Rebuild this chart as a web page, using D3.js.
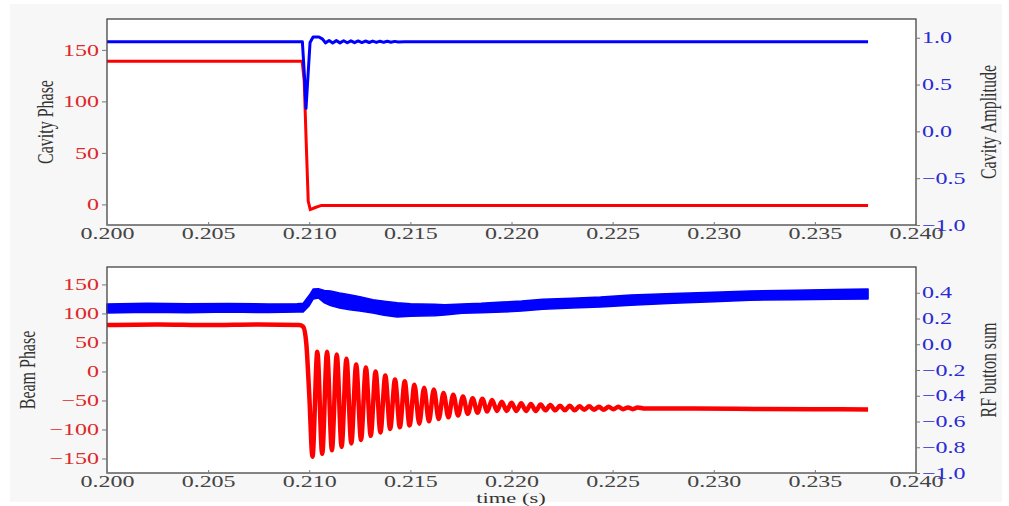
<!DOCTYPE html>
<html>
<head>
<meta charset="utf-8">
<script src="https://cdn.jsdelivr.net/npm/d3@7"></script>
<style>
body { margin: 0; background: #fff; }
svg text { font-family: "Liberation Serif", "Times New Roman", serif; }
</style>
</head>
<body>
<svg id="chart" width="1009" height="506"></svg>
<script>
// tick labels
const timeTicks = [0.200, 0.205, 0.210, 0.215, 0.220, 0.225, 0.230, 0.235, 0.240];
const cavPhaseTicks = [0, 50, 100, 150];
const cavAmpTicks = [-1.0, -0.5, 0.0, 0.5, 1.0];
const beamPhaseTicks = [-150, -100, -50, 0, 50, 100, 150];
const rfTicks = [-1.0, -0.8, -0.6, -0.4, -0.2, 0.0, 0.2, 0.4];

// top panel: cavity phase (red, left) and amplitude (blue, right)
const cavPhaseT = [0.2000, 0.20965, 0.20975, 0.20985, 0.20995, 0.21005, 0.21030, 0.21060, 0.21100, 0.23763];
const cavPhase = [139, 139, 120, 60, 3, -5, -3, -1, -1, -1];

const cavAmpT = [0.2000, 0.20966, 0.20976, 0.20984, 0.20994, 0.21004, 0.21019, 0.21048, 0.21066, 0.21080,
  0.21098, 0.21116, 0.21134, 0.21152, 0.21170, 0.21188, 0.21206, 0.21224, 0.21242, 0.21260,
  0.21278, 0.21296, 0.21314, 0.21332, 0.21350, 0.21368, 0.21386, 0.21404, 0.21422, 0.21440,
  0.21470, 0.23763];
const cavAmp = [0.957, 0.957, 0.60, 0.246, 0.60, 0.95, 1.008, 1.008, 0.985, 0.945,
  0.970, 0.944, 0.969, 0.945, 0.968, 0.946, 0.967, 0.947, 0.966, 0.948,
  0.965, 0.949, 0.964, 0.950, 0.963, 0.951, 0.962, 0.952, 0.961, 0.954,
  0.957, 0.957];

// bottom panel: beam phase (red, left), peaks and troughs
const beamT = [0.2000, 0.2025, 0.2050, 0.2075, 0.2095, 0.20970, 0.20985, 0.21000,
  0.21016, 0.21040, 0.21064, 0.21088, 0.21112, 0.21136, 0.21160, 0.21184, 0.21208, 0.21232,
  0.21256, 0.21280, 0.21304, 0.21328, 0.21352, 0.21376, 0.21400, 0.21424, 0.21448, 0.21472,
  0.21496, 0.21520, 0.21544, 0.21568, 0.21592, 0.21616, 0.21640, 0.21664, 0.21688, 0.21712,
  0.21736, 0.21760, 0.21784, 0.21808, 0.21832, 0.21856, 0.21880, 0.21904, 0.21928, 0.21952,
  0.21976, 0.22000, 0.22024, 0.22048, 0.22072, 0.22096, 0.22120, 0.22144, 0.22168, 0.22192,
  0.22216, 0.22240, 0.22264, 0.22288, 0.22312, 0.22336, 0.22360, 0.22384, 0.22408, 0.22432,
  0.22456, 0.22480, 0.22504, 0.22528, 0.22552, 0.22576, 0.22600, 0.22624,
  0.22660, 0.2290, 0.2320, 0.2350, 0.23763];
const beamPhase = [80, 81, 80, 81, 80, 77, 50, -40,
  -147, 34, -142, 34, -136, 29, -130, 22, -124, 12,
  -118, 7, -111, 0, -105, -7, -99, -14, -96, -17,
  -93, -23, -90, -28, -86, -31, -82, -37, -79, -40,
  -76, -43, -73, -46, -71, -47, -69, -49, -68, -52,
  -68, -54, -68, -55, -68, -56, -68, -57, -67, -58,
  -67, -59, -67, -59, -67, -60, -66, -60, -66, -61,
  -66, -61, -65, -61, -65, -62, -65, -62,
  -64, -64, -64.5, -65, -65.5];

// RF button sum (blue, right): noisy band, lower and upper edge
const rfT = [0.2000, 0.2020, 0.2040, 0.2060, 0.2080, 0.2094, 0.20970, 0.21000, 0.21020, 0.21045,
  0.21075, 0.21105, 0.21150, 0.21200, 0.21250, 0.21315, 0.21370, 0.21435, 0.21500, 0.21550,
  0.21620, 0.21670, 0.21755, 0.21850, 0.21955, 0.22050, 0.22155, 0.22300, 0.22440, 0.22590,
  0.22800, 0.23000, 0.23180, 0.23400, 0.23600, 0.23763];
const rfLo = [0.243, 0.248, 0.245, 0.250, 0.246, 0.250, 0.250, 0.300, 0.352, 0.360,
  0.322, 0.300, 0.282, 0.268, 0.258, 0.243, 0.225, 0.212, 0.218, 0.219,
  0.222, 0.227, 0.240, 0.245, 0.250, 0.258, 0.272, 0.282, 0.289, 0.303,
  0.318, 0.330, 0.342, 0.346, 0.350, 0.351];
const rfHi = [0.313, 0.318, 0.314, 0.316, 0.313, 0.315, 0.318, 0.380, 0.429, 0.432,
  0.418, 0.414, 0.398, 0.385, 0.370, 0.346, 0.335, 0.322, 0.315, 0.313,
  0.310, 0.306, 0.313, 0.318, 0.328, 0.335, 0.350, 0.358, 0.367, 0.382,
  0.395, 0.404, 0.413, 0.420, 0.425, 0.429];

const RED = "#ff0000", BLUE = "#0000ff";
const SX = 1.5; // the reference picture is stretched sideways, so is the text

const svg = d3.select("#chart");
svg.append("rect").attr("x", 10).attr("y", 4).attr("width", 992).attr("height", 498).attr("fill", "#f7f7f7");

const x = d3.scaleLinear().domain([0.200, 0.240]).range([107, 916]);

const yCavPh = d3.scaleLinear().domain([-20, 180]).range([225, 19]);
const yCavAmp = d3.scaleLinear().domain([-1, 1.2]).range([225, 19]);
const yBeam = d3.scaleLinear().domain([-175, 180]).range([473, 267]);
const yRf = d3.scaleLinear().domain([-1, 0.6]).range([473, 267]);

function frame(y0, y1) {
  svg.append("rect").attr("x", 107).attr("y", y0).attr("width", 809).attr("height", y1 - y0)
    .attr("fill", "#ffffff");
}

function border(y0, y1) {
  svg.append("rect").attr("x", 107).attr("y", y0).attr("width", 809).attr("height", y1 - y0)
    .attr("fill", "none").attr("stroke", "#444").attr("stroke-width", 1.3);
}

function axes(yL, ticksL, fmtL, yR, ticksR, fmtR, bottom) {
  const gx = svg.append("g").attr("transform", `translate(0,${bottom})`)
    .call(d3.axisBottom(x).tickValues(timeTicks).tickFormat(d3.format(".3f"))
      .tickSizeInner(-3).tickSizeOuter(0).tickPadding(3));
  gx.selectAll("text").attr("transform", `scale(${SX},1)`).attr("fill", "#444");

  const gl = svg.append("g").attr("transform", "translate(107,0)")
    .call(d3.axisLeft(yL).tickValues(ticksL).tickFormat(fmtL)
      .tickSizeInner(5).tickSizeOuter(0).tickPadding(3));
  gl.selectAll("text").attr("x", -8 / SX).attr("transform", `scale(${SX},1)`).attr("fill", "#e02828");

  const gr = svg.append("g").attr("transform", "translate(916,0)")
    .call(d3.axisRight(yR).tickValues(ticksR).tickFormat(fmtR)
      .tickSizeInner(4).tickSizeOuter(0).tickPadding(2));
  gr.selectAll("text").attr("x", 6 / SX).attr("transform", `scale(${SX},1)`).attr("fill", "#2a2ad6");

  [gx, gl, gr].forEach(g => {
    g.select(".domain").remove();
    g.selectAll("line").attr("stroke", "#777");
    g.selectAll("text").attr("font-size", 16).attr("font-family", null);
  });
}

function vlabel(txt, cx, cy) {
  svg.append("text").attr("transform", `translate(${cx},${cy}) scale(${SX},1) rotate(-90)`)
    .attr("text-anchor", "middle").attr("dy", "0.35em")
    .attr("font-size", 16).attr("fill", "#333").text(txt);
}

// ---- top panel
frame(19, 225);
const linePh = d3.line().x((d, i) => x(cavPhaseT[i])).y(d => yCavPh(d));
svg.append("path").datum(cavPhase).attr("d", linePh)
  .attr("fill", "none").attr("stroke", RED).attr("stroke-width", 3);
const lineAmp = d3.line().x((d, i) => x(cavAmpT[i])).y(d => yCavAmp(d));
svg.append("path").datum(cavAmp).attr("d", lineAmp)
  .attr("fill", "none").attr("stroke", BLUE).attr("stroke-width", 3).attr("stroke-linejoin", "round");
border(19, 225);
axes(yCavPh, cavPhaseTicks, d3.format("d"), yCavAmp, cavAmpTicks, d3.format(".1f"), 225);
vlabel("Cavity Phase", 45, 122);
vlabel("Cavity Amplitude", 988, 122);

// ---- bottom panel
frame(267, 473);
const lineBeam = d3.line().curve(d3.curveMonotoneX)
  .x((d, i) => x(beamT[i])).y(d => yBeam(d));
svg.append("path").datum(beamPhase).attr("d", lineBeam)
  .attr("fill", "none").attr("stroke", RED).attr("stroke-width", 4.5).attr("stroke-linejoin", "round");

const rfArea = d3.area().x((d, i) => x(rfT[i])).y0((d, i) => yRf(rfLo[i])).y1(d => yRf(d));
svg.append("path").datum(rfHi).attr("d", rfArea)
  .attr("fill", BLUE).attr("stroke", BLUE).attr("stroke-width", 1.5).attr("stroke-linejoin", "round");
border(267, 473);
axes(yBeam, beamPhaseTicks, d3.format("d"), yRf, rfTicks, d3.format(".1f"), 473);
vlabel("Beam Phase", 27, 370);
vlabel("RF button sum", 988, 370);

svg.append("text").attr("transform", `translate(511,503) scale(${SX},1)`)
  .attr("text-anchor", "middle").attr("font-size", 15).attr("fill", "#333").text("time (s)");
</script>
</body>
</html>
